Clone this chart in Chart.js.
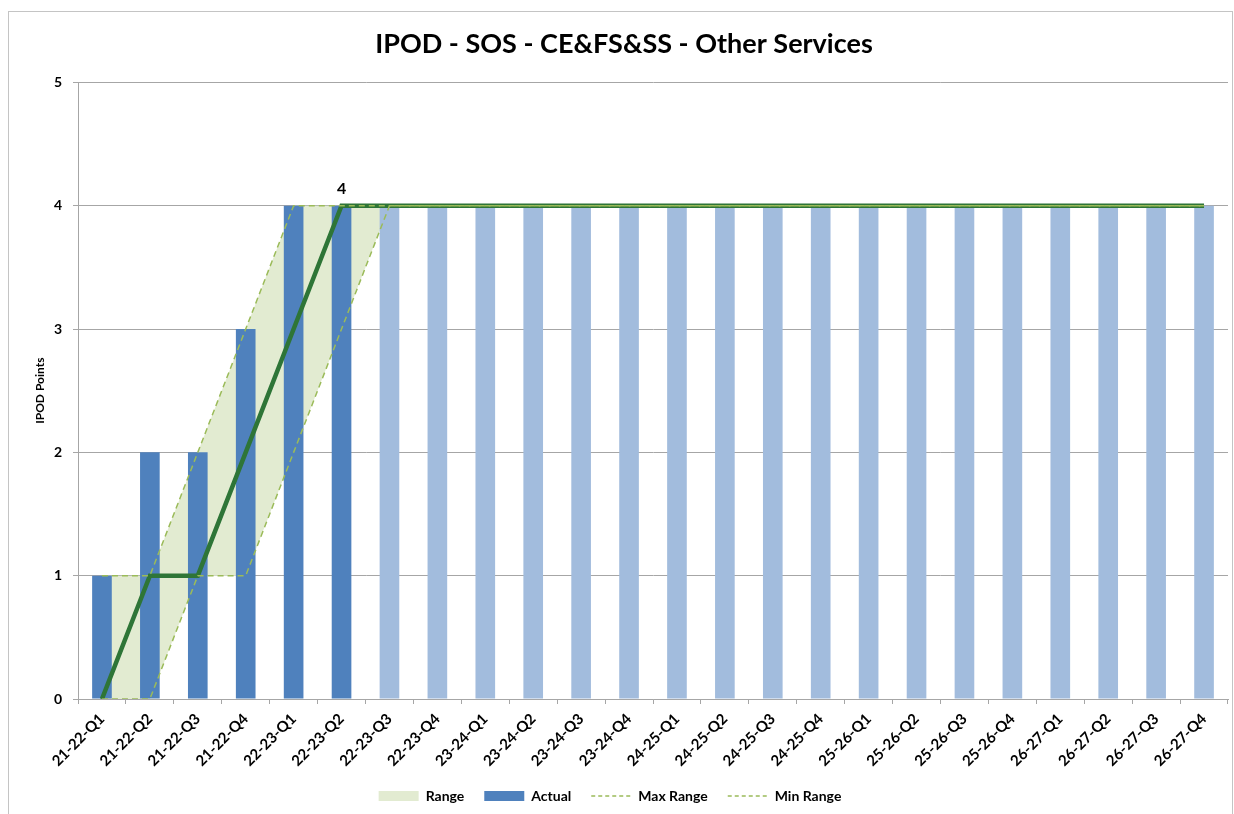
<!DOCTYPE html>
<html>
<head>
<meta charset="utf-8">
<title>IPOD - SOS - CE&amp;FS&amp;SS - Other Services</title>
<script src="https://cdn.jsdelivr.net/npm/chart.js@4.4.0/dist/chart.umd.min.js"></script>
<style>
  html, body { margin: 0; padding: 0; background: #fff; }
  #wrap { position: relative; width: 1234px; height: 814px; overflow: hidden; }
</style>
</head>
<body>
<div id="wrap"><canvas id="ipodChart" width="1234" height="814"></canvas></div>
<script>
const quarters = [
  '21-22-Q1', '21-22-Q2', '21-22-Q3', '21-22-Q4',
  '22-23-Q1', '22-23-Q2', '22-23-Q3', '22-23-Q4',
  '23-24-Q1', '23-24-Q2', '23-24-Q3', '23-24-Q4',
  '24-25-Q1', '24-25-Q2', '24-25-Q3', '24-25-Q4',
  '25-26-Q1', '25-26-Q2', '25-26-Q3', '25-26-Q4',
  '26-27-Q1', '26-27-Q2', '26-27-Q3', '26-27-Q4'
];
const actual   = [1, 2, 2, 3, 4, 4, 4, 4, 4, 4, 4, 4, 4, 4, 4, 4, 4, 4, 4, 4, 4, 4, 4, 4];
const target   = [0, 1, 1, 2, 3, 4, 4, 4, 4, 4, 4, 4, 4, 4, 4, 4, 4, 4, 4, 4, 4, 4, 4, 4];
const maxRange = [1, 1, 2, 3, 4, 4, 4, 4, 4, 4, 4, 4, 4, 4, 4, 4, 4, 4, 4, 4, 4, 4, 4, 4];
const minRange = [0, 0, 1, 1, 2, 3, 4, 4, 4, 4, 4, 4, 4, 4, 4, 4, 4, 4, 4, 4, 4, 4, 4, 4];
const yTicks = [0, 1, 2, 3, 4, 5];
const reportedQuarters = 6;   // quarters up to 22-23-Q2 have real results
const labelIndex = 5;         // value shown above the target line

const FONT = 'Lato, "Open Sans", sans-serif';
const DARK_BLUE = '#4f81bd';
const LIGHT_BLUE = '#a2bcdd';
const RANGE_FILL = '#e2ebd1';
const RANGE_LINE = '#9bbb59';
const TARGET_LINE = '#2e7537';
const GRID = '#a6a6a6';

const barColors = actual.map((v, i) => i < reportedQuarters ? DARK_BLUE : LIGHT_BLUE);

// frame round the whole chart
const frame = {
  id: 'frame',
  beforeDraw(chart) {
    const ctx = chart.ctx;
    ctx.save();
    ctx.strokeStyle = '#c4c4c4';
    ctx.lineWidth = 1;
    ctx.strokeRect(8.5, 11.5, 1224, 830);
    ctx.restore();
  }
};

// legend sits a little left of the chart's centre
const legendShift = {
  id: 'legendShift',
  afterLayout(chart) {
    chart.legend.left -= 14;
    chart.legend.right -= 14;
  }
};

// number over the target line at the current quarter
const pointLabel = {
  id: 'pointLabel',
  afterDatasetsDraw(chart) {
    const meta = chart.getDatasetMeta(4);
    const pt = meta.data[labelIndex];
    if (!pt) return;
    const ctx = chart.ctx;
    ctx.save();
    ctx.font = 'bold 16px ' + FONT;
    ctx.fillStyle = '#000';
    ctx.textAlign = 'center';
    ctx.textBaseline = 'bottom';
    ctx.fillText(String(target[labelIndex]), pt.x, pt.y - 9);
    ctx.restore();
  }
};

const lineBase = { type: 'line', pointRadius: 0, pointHoverRadius: 0, tension: 0, fill: false };

new Chart(document.getElementById('ipodChart'), {
  type: 'bar',
  data: {
    labels: quarters,
    datasets: [
      Object.assign({}, lineBase, {
        label: 'Range',
        data: maxRange,
        borderWidth: 0,
        borderColor: 'rgba(0,0,0,0)',
        backgroundColor: RANGE_FILL,
        fill: 3,
        order: 3
      }),
      {
        label: 'Actual',
        data: actual,
        backgroundColor: barColors,
        categoryPercentage: 1,
        barPercentage: 0.41,
        order: 2
      },
      Object.assign({}, lineBase, {
        label: 'Max Range',
        data: maxRange,
        borderColor: RANGE_LINE,
        borderWidth: 1.5,
        borderDash: [6, 4],
        order: 0
      }),
      Object.assign({}, lineBase, {
        label: 'Min Range',
        data: minRange,
        borderColor: RANGE_LINE,
        borderWidth: 1.5,
        borderDash: [6, 4],
        order: 0
      }),
      Object.assign({}, lineBase, {
        label: 'Target',
        data: target,
        borderColor: TARGET_LINE,
        borderWidth: 4.5,
        borderCapStyle: 'butt',
        order: 1
      })
    ]
  },
  options: {
    responsive: false,
    animation: false,
    events: [],
    layout: { padding: { left: 20, right: 6, top: 8, bottom: 1 } },
    plugins: {
      title: {
        display: true,
        text: 'IPOD - SOS - CE&FS&SS - Other Services',
        color: '#000',
        font: { family: FONT, size: 27, weight: 'bold' },
        padding: { top: 20, bottom: 22 }
      },
      legend: {
        position: 'bottom',
        labels: {
          color: '#000',
          font: { family: FONT, size: 14, weight: 'bold' },
          usePointStyle: true,
          pointStyleWidth: 40,
          boxHeight: 10,
          padding: 20,
          generateLabels(chart) {
            return chart.data.datasets.map((ds, i) => {
              const dashed = !!ds.borderDash;
              const fillCol = i === 1 ? DARK_BLUE : ds.backgroundColor;
              return {
                text: ds.label,
                datasetIndex: i,
                fontColor: '#000',
                hidden: false,
                pointStyle: dashed ? 'line' : 'rect',
                fillStyle: dashed ? 'rgba(0,0,0,0)' : fillCol,
                strokeStyle: dashed ? ds.borderColor : fillCol,
                lineWidth: dashed ? 1.5 : 0,
                lineDash: dashed ? [4, 3] : []
              };
            }).filter(item => item.text !== 'Target');
          }
        }
      },
      tooltip: { enabled: false }
    },
    scales: {
      x: {
        grid: { display: true, drawOnChartArea: false, color: GRID, tickLength: 5 },
        border: { color: GRID },
        ticks: {
          color: '#000',
          autoSkip: false,
          minRotation: 45,
          maxRotation: 45,
          padding: 6,
          font: { family: FONT, size: 15, weight: 'bold' }
        },
        afterFit(scale) { scale.height = 70; }
      },
      y: {
        min: 0,
        max: 5,
        afterBuildTicks(scale) { scale.ticks = yTicks.map(v => ({ value: v })); },
        grid: { color: GRID, tickLength: 5 },
        border: { color: GRID },
        ticks: {
          color: '#000',
          padding: 11,
          font: { family: FONT, size: 14, weight: 'bold' }
        },
        title: {
          display: true,
          text: 'IPOD Points',
          color: '#000',
          font: { family: FONT, size: 12, weight: 'bold' },
          padding: { top: 13, bottom: 0 }
        },
        afterFit(scale) { scale.width = 58; }
      }
    }
  },
  plugins: [frame, legendShift, pointLabel]
});
</script>
</body>
</html>
